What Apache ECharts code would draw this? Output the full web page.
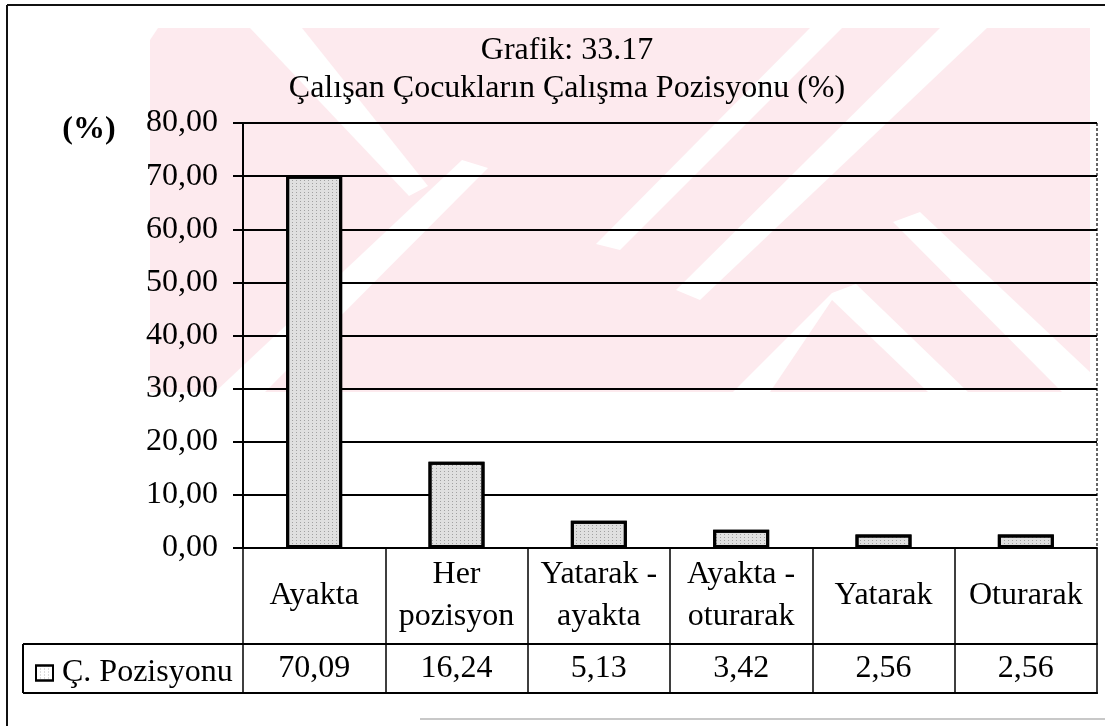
<!DOCTYPE html>
<html>
<head>
<meta charset="utf-8">
<script src="https://cdn.jsdelivr.net/npm/echarts@6/dist/echarts.min.js"></script>
<style>
  html, body { margin: 0; padding: 0; background: #fff; }
  #chart { width: 1105px; height: 726px; }
</style>
</head>
<body>
<div id="chart"></div>
<script>
// Working position of working children (%)
const categories = ['Ayakta', 'Her\npozisyon', 'Yatarak -\nayakta', 'Ayakta -\noturarak', 'Yatarak', 'Oturarak'];
const seriesName = 'Ç. Pozisyonu';
const values = [70.09, 16.24, 5.13, 3.42, 2.56, 2.56];
const yTicks = { min: 0, max: 80, interval: 10 };
const titleLines = ['Grafik: 33.17', 'Çalışan Çocukların Çalışma Pozisyonu (%)'];
const unitLabel = '(%)';

const SERIF = 'Liberation Serif';
const fmt = v => Number(v).toFixed(2).replace('.', ',');

const chart = echarts.init(document.getElementById('chart'), null, { renderer: 'canvas' });

// pale diagonal background emblem
const PINK = '#fdeaee';
const emblem = [
  { type: 'polygon', z: -3, silent: true, shape: { points: [[158, 28], [1090, 28], [1090, 392], [150, 392], [150, 40]] }, style: { fill: PINK } },
  { type: 'polygon', z: -2, silent: true, shape: { points: [[250, 28], [302, 28], [428, 186], [409, 196]] }, style: { fill: '#fff' } },
  { type: 'polygon', z: -2, silent: true, shape: { points: [[215, 392], [265, 392], [488, 168], [462, 160]] }, style: { fill: '#fff' } },
  { type: 'polygon', z: -2, silent: true, shape: { points: [[810, 28], [842, 28], [620, 250], [596, 244]] }, style: { fill: '#fff' } },
  { type: 'polygon', z: -2, silent: true, shape: { points: [[940, 28], [987, 28], [700, 300], [676, 290]] }, style: { fill: '#fff' } },
  { type: 'polygon', z: -2, silent: true, shape: { points: [[893, 222], [920, 212], [1090, 372], [1090, 392], [1062, 392]] }, style: { fill: '#fff' } },
  { type: 'polygon', z: -2, silent: true, shape: { points: [[832, 293], [856, 284], [968, 392], [928, 392], [832, 300], [770, 392], [733, 392]] }, style: { fill: '#fff' } }
];

const frame = [
  { type: 'line', silent: true, shape: { x1: 7, y1: 5, x2: 1105, y2: 5 }, style: { stroke: '#111', lineWidth: 2 } },
  { type: 'line', silent: true, shape: { x1: 7, y1: 5, x2: 7, y2: 726 }, style: { stroke: '#111', lineWidth: 2 } },
  { type: 'line', silent: true, shape: { x1: 1097, y1: 123, x2: 1097, y2: 548 }, style: { stroke: '#333', lineWidth: 1.5, lineDash: [3, 2] } },
  { type: 'line', silent: true, shape: { x1: 420, y1: 719, x2: 1105, y2: 719 }, style: { stroke: '#c8c8c8', lineWidth: 2 } },
  // legend cell of the data table
  { type: 'line', silent: true, shape: { x1: 23, y1: 644, x2: 243, y2: 644 }, style: { stroke: '#000', lineWidth: 2 } },
  { type: 'line', silent: true, shape: { x1: 23, y1: 693, x2: 243, y2: 693 }, style: { stroke: '#000', lineWidth: 2 } },
  { type: 'line', silent: true, shape: { x1: 23, y1: 644, x2: 23, y2: 693 }, style: { stroke: '#000', lineWidth: 2 } },
  { type: 'text', silent: true, x: 89, y: 130, style: { text: unitLabel, font: 'bold 32px "Liberation Serif"', fill: '#000', align: 'center', verticalAlign: 'middle' } }
];

const option = {
  backgroundColor: '#fff',
  animation: false,
  title: {
    text: titleLines.join('\n'),
    left: 562,
    top: 27,
    textAlign: 'center',
    textStyle: { fontFamily: SERIF, fontSize: 32, fontWeight: 'normal', color: '#000', lineHeight: 38 }
  },
  legend: {
    left: 30,
    top: 652,
    data: [seriesName],
    icon: 'rect',
    itemWidth: 17,
    itemHeight: 15,
    itemStyle: { color: '#fff', borderColor: '#000', borderWidth: 2 },
    textStyle: { fontFamily: SERIF, fontSize: 32, color: '#000', lineHeight: 32, padding: [0, 0, 0, 4] }
  },
  grid: { left: 243, top: 123, width: 854, height: 425, containLabel: false },
  xAxis: [
    {
      type: 'category',
      data: categories,
      boundaryGap: true,
      axisLine: { show: true, lineStyle: { color: '#000', width: 2 } },
      axisTick: { show: true, interval: 0, length: 146, lineStyle: { color: '#000', width: 1.5 } },
      axisLabel: {
        interval: 0, margin: 48, verticalAlign: 'middle', align: 'center',
        fontFamily: SERIF, fontSize: 32, lineHeight: 42, color: '#000'
      },
      splitLine: { show: false }
    },
    {
      type: 'category',
      data: categories,
      position: 'bottom',
      offset: 96,
      axisLine: { show: true, lineStyle: { color: '#000', width: 2 } },
      axisTick: { show: false },
      axisLabel: {
        interval: 0, margin: 25, verticalAlign: 'middle', align: 'center',
        fontFamily: SERIF, fontSize: 32, color: '#000',
        formatter: (v, i) => fmt(values[i])
      }
    },
    {
      type: 'category',
      data: categories,
      position: 'bottom',
      offset: 145,
      axisLine: { show: true, lineStyle: { color: '#000', width: 2 } },
      axisTick: { show: false },
      axisLabel: { show: false }
    }
  ],
  yAxis: {
    type: 'value',
    min: yTicks.min,
    max: yTicks.max,
    interval: yTicks.interval,
    axisLine: { show: true, lineStyle: { color: '#000', width: 2 } },
    axisTick: { show: true, length: 10, lineStyle: { color: '#000', width: 2 } },
    axisLabel: { margin: 25, fontFamily: SERIF, fontSize: 32, color: '#000', formatter: v => fmt(v) },
    splitLine: { show: true, lineStyle: { color: '#000', width: 2 } }
  },
  series: [
    {
      name: seriesName,
      type: 'bar',
      xAxisIndex: 0,
      data: values,
      barWidth: 56,
      itemStyle: {
        color: '#e0e0e0',
        borderColor: '#000',
        borderWidth: 3,
        decal: {
          symbol: 'rect',
          symbolSize: 1,
          dashArrayX: [1, 3],
          dashArrayY: [1, 2],
          color: 'rgba(0,0,0,0.28)'
        }
      },
      label: { show: false }
    }
  ],
  graphic: { elements: emblem.concat(frame) }
};

chart.setOption(option);
</script>
</body>
</html>
